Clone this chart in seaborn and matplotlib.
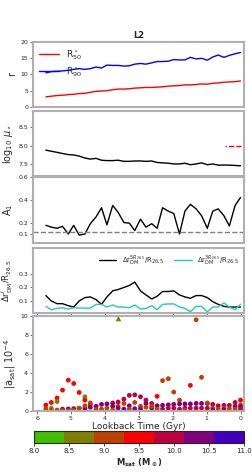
import matplotlib
matplotlib.use("Agg")
import matplotlib.pyplot as plt
import pandas as pd
import seaborn as sns
from matplotlib.colors import ListedColormap, Normalize
from matplotlib.cm import ScalarMappable

# tiempos de los snapshots (Gyr)
lookback = [5.74, 5.58, 5.41, 5.25, 5.08, 4.92, 4.76, 4.59, 4.43, 4.26, 4.10, 3.94,
            3.77, 3.61, 3.44, 3.28, 3.12, 2.95, 2.79, 2.62, 2.46, 2.30, 2.13, 1.97,
            1.80, 1.64, 1.48, 1.31, 1.15, 0.98, 0.82, 0.66, 0.49, 0.33, 0.16, 0.00]

r50 = [3.1, 3.3, 3.5, 3.6, 3.8, 3.9, 4.1, 4.2, 4.5, 4.8, 4.9, 5.0,
       5.3, 5.5, 5.5, 5.6, 5.8, 5.9, 6.0, 6.0, 6.1, 6.2, 6.4, 6.5,
       6.6, 6.8, 6.8, 6.9, 7.1, 7.0, 7.3, 7.4, 7.6, 7.7, 7.8, 8.0]
r90 = [10.5, 10.9, 11.0, 11.1, 11.3, 11.6, 11.8, 11.6, 11.8, 12.3, 12.0, 12.9,
       12.8, 12.8, 12.6, 12.7, 13.2, 13.4, 13.2, 13.6, 14.0, 14.0, 14.1, 14.6,
       14.5, 14.5, 15.3, 14.8, 15.0, 14.4, 15.4, 16.0, 15.3, 15.9, 16.4, 16.8]

log_mu = [7.88, 7.85, 7.82, 7.79, 7.76, 7.75, 7.72, 7.67, 7.64, 7.66, 7.61, 7.60,
          7.60, 7.61, 7.58, 7.58, 7.59, 7.59, 7.58, 7.59, 7.55, 7.54, 7.53, 7.51,
          7.51, 7.53, 7.49, 7.51, 7.54, 7.49, 7.51, 7.48, 7.48, 7.48, 7.47, 7.46]
mu_ref = 7.99
mu_ref_t = [0.45, 0.0]

a1 = [0.176, 0.16, 0.15, 0.167, 0.10, 0.176, 0.09, 0.10, 0.19, 0.25, 0.33, 0.18,
      0.35, 0.29, 0.20, 0.195, 0.13, 0.23, 0.16, 0.19, 0.15, 0.33, 0.30, 0.28,
      0.10, 0.30, 0.36, 0.32, 0.26, 0.15, 0.30, 0.32, 0.26, 0.17, 0.35, 0.42]
a1_ref = 0.12

dr_5r = [0.14, 0.10, 0.08, 0.08, 0.065, 0.055, 0.10, 0.125, 0.13, 0.11, 0.075, 0.13,
         0.175, 0.185, 0.20, 0.215, 0.24, 0.175, 0.145, 0.115, 0.135, 0.17, 0.17, 0.175,
         0.145, 0.13, 0.12, 0.14, 0.14, 0.125, 0.095, 0.075, 0.06, 0.055, 0.055, 0.055]
dr_3r = [0.06, 0.035, 0.045, 0.05, 0.04, 0.05, 0.048, 0.047, 0.047, 0.075, 0.075, 0.055,
         0.07, 0.055, 0.055, 0.05, 0.07, 0.04, 0.045, 0.065, 0.035, 0.075, 0.078, 0.078,
         0.055, 0.045, 0.02, 0.06, 0.06, 0.02, 0.055, 0.055, 0.085, 0.055, 0.035, 0.075]

# satelites: snapshot, |a_sat| (1e-4), log10 masa
sat_snap = [0, 0, 0, 1, 1, 1, 2, 2, 2, 3, 3, 3, 4, 4, 4, 5, 5, 5, 6, 6, 6,
            7, 7, 7, 7, 8, 8, 8, 9, 9, 10, 10, 11, 11, 12, 12, 12, 13, 13, 13,
            14, 14, 14, 15, 15, 15, 16, 16, 16, 17, 17, 17, 18, 18, 18, 19, 19, 19,
            20, 20, 20, 21, 21, 21, 22, 22, 22, 23, 23, 23, 24, 24, 24, 25, 25, 25,
            26, 26, 26, 27, 27, 27, 28, 28, 28, 29, 29, 29, 30, 30, 30, 31, 31,
            32, 32, 32, 33, 33, 34, 34, 34, 35, 35, 35, 35]
sat_acc = [0.63, 0.25, 0.05, 0.9, 0.28, 0.05, 1.37, 1.0, 0.1, 2.2, 0.2, 0.05,
           3.25, 0.22, 0.05, 2.9, 0.25, 0.08, 1.95, 0.28, 0.3,
           1.5, 1.15, 0.28, 0.55, 0.65, 0.85, 0.4, 0.5, 0.15, 0.7, 0.2, 0.75, 0.3,
           0.85, 0.5, 0.1, 0.95, 0.5, 0.3, 1.25, 0.8, 0.2, 1.65, 0.55, 0.2,
           1.7, 0.9, 0.25, 1.5, 0.5, 0.2, 1.15, 0.8, 0.4, 0.8, 0.3, 0.5,
           1.55, 0.55, 0.2, 3.2, 0.6, 0.2, 3.4, 0.65, 0.3, 2.0, 0.7, 0.3,
           1.15, 0.75, 0.2, 0.75, 0.3, 0.1, 2.7, 0.75, 0.3, 9.6, 0.8, 0.3,
           3.55, 0.8, 0.3, 0.8, 0.85, 0.3, 0.7, 0.3, 0.1, 0.55, 0.2,
           0.6, 0.3, 0.15, 0.6, 0.25, 0.9, 0.5, 0.2, 1.15, 0.65, 0.45, 0.2]
sat_mass = [9.5, 9.05, 9.05, 9.5, 8.6, 9.05, 9.5, 8.6, 9.05, 9.5, 10.35, 9.05,
            9.5, 10.35, 9.05, 9.5, 10.35, 9.05, 9.5, 10.35, 9.05,
            8.6, 9.5, 10.35, 9.05, 9.5, 9.05, 10.35, 10.35, 9.05, 10.35, 9.05, 10.35, 9.05,
            9.95, 10.35, 9.05, 9.95, 9.05, 10.35, 9.95, 9.05, 10.35, 9.95, 10.35, 9.05,
            9.95, 9.05, 10.35, 9.95, 9.05, 10.35, 9.95, 10.35, 9.05, 9.95, 10.35, 9.05,
            9.5, 10.35, 9.05, 9.05, 10.35, 9.95, 9.05, 10.35, 9.95, 9.05, 10.35, 9.95,
            9.05, 10.35, 9.95, 10.35, 9.95, 9.05, 9.5, 10.35, 9.95, 9.05, 10.35, 9.95,
            9.05, 10.35, 9.95, 10.35, 9.05, 9.95, 9.95, 9.05, 10.35, 9.95, 9.05,
            9.95, 9.05, 10.35, 9.95, 9.05, 9.95, 10.35, 9.05, 9.5, 9.05, 10.35, 9.95]
# fuera de escala (triangulo)
off_snap = [13]
off_acc = [9.75]
off_mass = [8.6]

mass_colors = ["#40bf00", "#808000", "#bf4000", "#ff0000", "#bf0040", "#800080", "#4000bf"]
mass_ticks = [8.0, 8.5, 9.0, 9.5, 10.0, 10.5, 11.0]

cmap = ListedColormap(mass_colors)
sns.set_style("ticks")
plt.rcParams["font.family"] = ["DejaVu Sans"]

fig = plt.figure(figsize=(2.52, 4.73), dpi=100)
L, W = 0.131, 0.837
ax1 = fig.add_axes([L, 0.774, W, 0.137])
ax2 = fig.add_axes([L, 0.628, W, 0.137])
ax3 = fig.add_axes([L, 0.486, W, 0.140])
ax4 = fig.add_axes([L, 0.338, W, 0.137])
ax5 = fig.add_axes([L, 0.131, W, 0.201])
cax = fig.add_axes([0.135, 0.063, 0.833, 0.025])

# radios
sns.lineplot(x=lookback, y=r50, color="red", lw=1, label=r"R$^\star_{50}$", ax=ax1)
sns.lineplot(x=lookback, y=r90, color="blue", lw=1, label=r"R$^\star_{90}$", ax=ax1)
ax1.set_ylim(0, 20)
ax1.set_yticks([0, 5, 10, 15, 20])
ax1.set_ylabel("r", fontsize=7)
ax1.set_title("L2", fontsize=6, fontweight="bold", pad=3)
ax1.legend(loc="upper left", frameon=False, fontsize=6.5, handlelength=2.2,
           borderaxespad=0.3, labelspacing=0.4)

# densidad superficial
sns.lineplot(x=lookback, y=log_mu, color="black", lw=1, ax=ax2)
sns.lineplot(x=mu_ref_t, y=[mu_ref, mu_ref], color="red", lw=1, ls="--", ax=ax2)
ax2.set_ylim(7.19, 8.92)
ax2.set_yticks([7.5, 8.0, 8.5])
ax2.set_ylabel(r"log$_{10}$ $\mu_\star$", fontsize=7)

# asimetria
sns.lineplot(x=lookback, y=a1, color="black", lw=1, ax=ax3)
ax3.axhline(a1_ref, color="gray", lw=1, ls="--")
ax3.set_ylim(0.02, 0.6)
ax3.set_yticks([0.1, 0.2, 0.4, 0.6])
ax3.set_ylabel(r"A$_1$", fontsize=7)

# desplazamiento del halo
sns.lineplot(x=lookback, y=dr_5r, color="black", lw=1,
             label=r"$\Delta$r$_{\rm DM}^{5R_{26.5}}$/R$_{26.5}$", ax=ax4)
sns.lineplot(x=lookback, y=dr_3r, color="#20c8c8", lw=1,
             label=r"$\Delta$r$_{\rm DM}^{3R_{26.5}}$/R$_{26.5}$", ax=ax4)
ax4.set_ylim(0.01, 0.49)
ax4.set_yticks([0.1, 0.2, 0.3])
ax4.set_ylabel(r"$\Delta$r$^{j}_{\rm DM}$/R$_{26.5}$", fontsize=6)
ax4.legend(loc="upper right", ncol=2, frameon=False, fontsize=5, handlelength=2.5,
           columnspacing=1.5, borderaxespad=0.3)

# aceleracion de satelites
df_sat = pd.DataFrame({"t": [lookback[i] for i in sat_snap], "acc": sat_acc, "mass": sat_mass})
sns.scatterplot(data=df_sat, x="t", y="acc", hue="mass", palette=cmap, hue_norm=(8, 11),
                s=12, linewidth=0, legend=False, ax=ax5)
df_off = pd.DataFrame({"t": [lookback[i] for i in off_snap], "acc": off_acc, "mass": off_mass})
sns.scatterplot(data=df_off, x="t", y="acc", hue="mass", palette=cmap, hue_norm=(8, 11),
                s=16, marker="^", linewidth=0, legend=False, ax=ax5)
ax5.set_ylim(0, 10)
ax5.set_yticks([0, 2, 4, 6, 8, 10])
ax5.set_ylabel(r"|a$_{\rm sat}$| 10$^{-4}$", fontsize=7)
ax5.set_xlabel("Lookback Time (Gyr)", fontsize=6.5, labelpad=0.5)
ax5.set_xticks([6, 5, 4, 3, 2, 1, 0])

for ax in [ax1, ax2, ax3, ax4, ax5]:
    ax.set_xlim(6.12, -0.1)
    for s in ax.spines.values():
        s.set_color("#b0b0b0")
        s.set_linewidth(1.5)
    ax.tick_params(labelsize=4.5, length=2, width=0.6, color="#555555", pad=1.5)
    ax.yaxis.labelpad = 2
for ax in [ax1, ax2, ax3, ax4]:
    ax.set_xticks([6, 5, 4, 3, 2, 1, 0])
    ax.set_xticklabels([])
    ax.set_xlabel("")
for ax in [ax1, ax2, ax3]:
    ax.tick_params(axis="x", length=0)

cb = fig.colorbar(ScalarMappable(norm=Normalize(8, 11), cmap=cmap), cax=cax,
                  orientation="horizontal")
cb.set_ticks(mass_ticks)
cb.ax.tick_params(labelsize=5, length=2, width=0.6, pad=1.5)
cb.outline.set_linewidth(0.8)
cb.set_label(r"$\mathbf{M_{sat}}$ ($\mathbf{M_\odot}$)", fontsize=6, fontweight="bold", labelpad=2)

fig.savefig("out.png", dpi=100)
